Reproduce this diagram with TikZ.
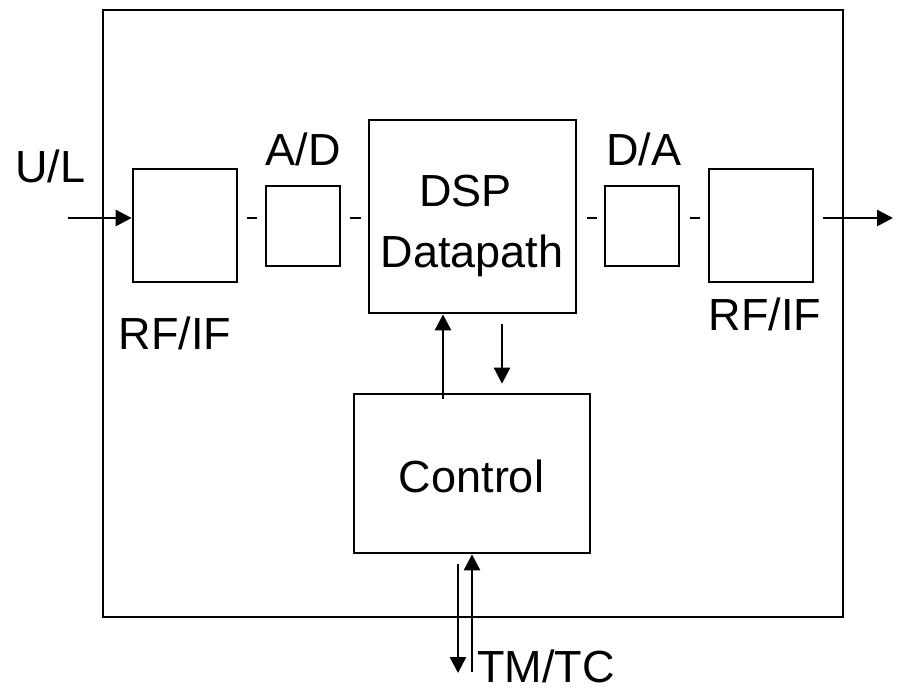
\documentclass[tikz,border=0pt]{standalone}
\usepackage{fontspec}
\setmainfont{Liberation Sans}
\usetikzlibrary{arrows.meta}
\begin{document}
\begin{tikzpicture}[x=1pt,y=-1pt,
  box/.style={draw,line width=2.7pt,inner sep=0pt,minimum width=#1},
  lbl/.style={inner sep=0pt,anchor=base,text depth=0pt,font=\fontsize{45}{54}\selectfont},
  conn/.style={line width=2.7pt},
  arr/.style={line width=2.7pt,-{Triangle[length=16pt,width=16pt]}}]
\useasboundingbox (0,0) rectangle (898,689);
% outer frame
\node[box=740pt,minimum height=607pt] (frame) at (473,313.5) {};
% blocks
\node[box=104pt,minimum height=113pt] (rf1) at (185,225.5) {};
\node[box=74pt,minimum height=80pt] (ad) at (303,226) {};
\node[box=207pt,minimum height=193pt] (dsp) at (472.5,216.5) {};
\node[box=74pt,minimum height=80pt] (da) at (642,226) {};
\node[box=104pt,minimum height=113pt] (rf2) at (761,225.5) {};
\node[box=236pt,minimum height=159pt] (ctl) at (472,473.5) {};
% labels
\node[lbl] (ul) at (50.5,182) {U/L};
\node[lbl] (adl) at (303,165) {A/D};
\node[lbl] (dal) at (644,165) {D/A};
\node[lbl] (dspl) at (465.5,206) {DSP};
\node[lbl] (dpl) at (472,267) {Datapath};
\node[lbl] (rf1l) at (175,349) {RF/IF};
\node[lbl] (rf2l) at (765,330) {RF/IF};
\node[lbl] (ctll) at (471.5,492) {Control};
\node[lbl] (tmtc) at (546,682) {TM/TC};
% coordinates
\coordinate (in) at (68,218);
\coordinate (out) at (893,218);
\coordinate (tmdown) at (458,673);
\coordinate (tmup) at (472,672);
% connectors
\draw[arr] (in) -- (rf1.west |- in);
\draw[arr] ([xshift=9pt]rf2.east |- out) -- (out);
\draw[conn] ([xshift=9pt]rf1.east |- in) -- ([xshift=-8pt]ad.west |- in);
\draw[conn] ([xshift=9pt]ad.east |- in) -- ([xshift=-7pt]dsp.west |- in);
\draw[conn] ([xshift=10pt]dsp.east |- in) -- ([xshift=-7pt]da.west |- in);
\draw[conn] ([xshift=10pt]da.east |- in) -- ([xshift=-8pt]rf2.west |- in);
\draw[arr] ([yshift=-6pt]ctl.north -| 443,0) -- (dsp.south -| 443,0);
\draw[arr] ([yshift=-10pt]dsp.south -| 502,0) -- ([yshift=9pt]ctl.north -| 502,0);
\draw[arr] ([yshift=-10pt]ctl.south -| tmdown) -- (tmdown);
\draw[arr] (tmup) -- (ctl.south -| tmup);
\end{tikzpicture}
\end{document}
